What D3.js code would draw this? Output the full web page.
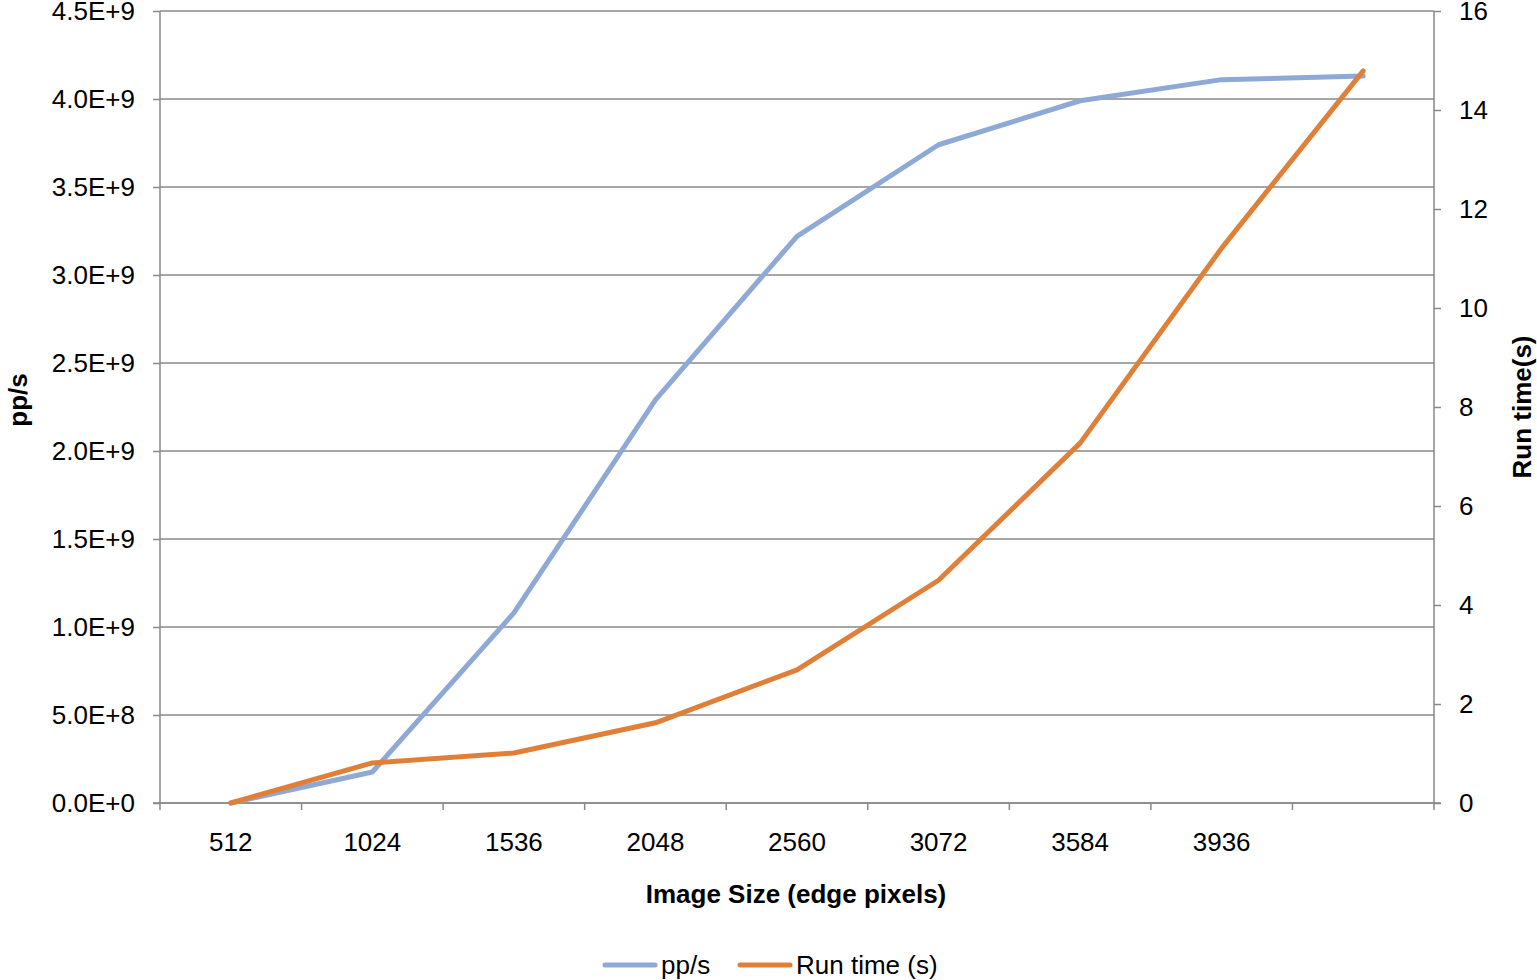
<!DOCTYPE html>
<html><head><meta charset="utf-8">
<script src="https://cdn.jsdelivr.net/npm/d3@7"></script>
<style>body{margin:0;background:#fff}text{font-family:"Liberation Sans",Arial,sans-serif;fill:#000}</style>
</head><body>
<svg id="c" width="1537" height="980"></svg>
<script>
const categories = ["512","1024","1536","2048","2560","3072","3584","3936",""];
const ppsValues = [0, 0.176e9, 1.08e9, 2.29e9, 3.22e9, 3.74e9, 3.99e9, 4.11e9, 4.13e9];
const runTimeValues = [0, 0.81, 1.01, 1.62, 2.69, 4.5, 7.27, 11.21, 14.79];
const leftTicks = [0,0.5e9,1e9,1.5e9,2e9,2.5e9,3e9,3.5e9,4e9,4.5e9];
const rightTicks = [0,2,4,6,8,10,12,14,16];

const svg = d3.select("#c");
const L=160, R=1434, T=11, B=803;
const FS="26px";
const x = d3.scaleBand().domain(d3.range(categories.length)).range([L,R]);
const yL = d3.scaleLinear().domain([0,4.5e9]).range([B,T]);
const yR = d3.scaleLinear().domain([0,16]).range([B,T]);
const grid="#898989";

svg.append("g").selectAll("line").data(leftTicks).join("line")
  .attr("x1",L).attr("x2",R).attr("y1",d=>yL(d)).attr("y2",d=>yL(d))
  .attr("stroke",grid).attr("stroke-width",1.5);

const fmtE = d=>d3.format(".1e")(d).toUpperCase();
const gl = svg.append("g").attr("transform",`translate(${L},0)`)
  .call(d3.axisLeft(yL).tickValues(leftTicks).tickSize(7).tickPadding(18).tickFormat(fmtE));
const gr = svg.append("g").attr("transform",`translate(${R},0)`)
  .call(d3.axisRight(yR).tickValues(rightTicks).tickSize(7).tickPadding(18));
const bounds = d3.range(categories.length+1).map(i=>L+i*x.step());
const gx = svg.append("g").attr("transform",`translate(0,${B})`)
  .call(d3.axisBottom(x).tickFormat(i=>categories[i]).tickSize(0).tickPadding(30));
gx.selectAll(".tick line").remove();
svg.append("g").selectAll("line").data(bounds).join("line")
  .attr("x1",d=>d).attr("x2",d=>d).attr("y1",B).attr("y2",B+7)
  .attr("stroke",grid).attr("stroke-width",1.5);
[gl,gr,gx].forEach(g=>{
  g.selectAll("path,line").attr("stroke",grid).attr("stroke-width",1.5);
  g.selectAll("text").style("font-size",FS).attr("fill","#000");
});
gl.selectAll("text").attr("dy","0.34em");
gr.selectAll("text").attr("dy","0.34em");
gx.select(".domain").attr("d",`M${L-7},0H${R+7}`);
gl.select(".domain").attr("d",`M0,${B}V${T}`);
gr.select(".domain").attr("d",`M0,${B}V${T}`);

const cx = i=>x(i)+x.bandwidth()/2;
svg.append("path").datum(ppsValues)
  .attr("d",d3.line().x((d,i)=>cx(i)).y(d=>yL(d)))
  .attr("fill","none").attr("stroke","#8EA9D5").attr("stroke-width",5).attr("stroke-linejoin","round").attr("stroke-linecap","round");
svg.append("path").datum(runTimeValues)
  .attr("d",d3.line().x((d,i)=>cx(i)).y(d=>yR(d)))
  .attr("fill","none").attr("stroke","#E07F38").attr("stroke-width",5).attr("stroke-linejoin","round").attr("stroke-linecap","round");

svg.append("text").attr("x",796).attr("y",903).attr("text-anchor","middle")
  .style("font-size",FS).style("font-weight","bold").text("Image Size (edge pixels)");
svg.append("text").attr("transform","translate(27,400) rotate(-90)").attr("text-anchor","middle")
  .style("font-size",FS).style("font-weight","bold").text("pp/s");
svg.append("text").attr("transform","translate(1531,407) rotate(-90)").attr("text-anchor","middle")
  .style("font-size",FS).style("font-weight","bold").text("Run time(s)");

const legend=[{name:"pp/s",color:"#8EA9D5",x:605},{name:"Run time (s)",color:"#E07F38",x:740}];
const lg=svg.append("g").selectAll("g").data(legend).join("g").attr("transform",d=>`translate(${d.x},965)`);
lg.append("line").attr("x1",0).attr("x2",50).attr("stroke",d=>d.color).attr("stroke-width",5).attr("stroke-linecap","round");
lg.append("text").attr("x",56).attr("y",9).style("font-size",FS).text(d=>d.name);
</script>
</body></html>
